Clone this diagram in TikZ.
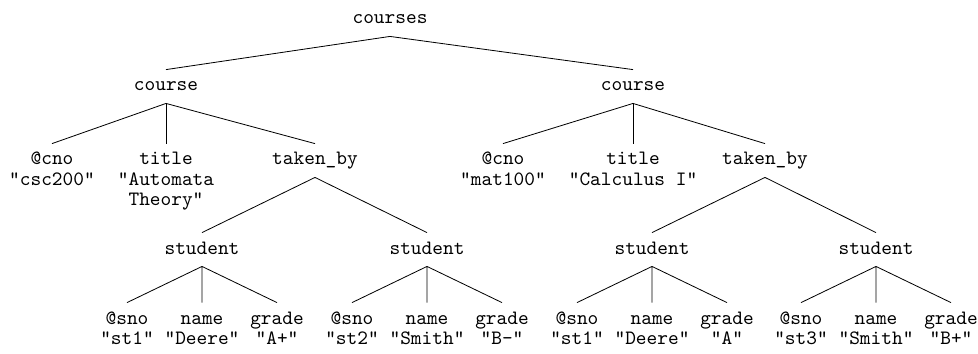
\documentclass[tikz,border=0pt]{standalone}
\newcommand\leaftext[1]{\begin{tabular}[t]{@{}c@{}}#1\end{tabular}}
\begin{document}
\begin{tikzpicture}[x=0.4907pt,y=-0.4907pt,
	tag/.style={anchor=base,font=\ttfamily\fontsize{10}{10}\selectfont,inner sep=2.3pt,text height=8pt,text depth=3.6pt}]
	\useasboundingbox (0,0) rectangle (978,354);

	\node[tag] (root) at (390,24) {courses};
	\node[tag] (c1) at (166,91) {course};
	\node[tag] (c2) at (633,91) {course};

	% first course
	\node[tag] (c1no) at (52,165) {\leaftext{@cno\\"csc200"}};
	\node[tag] (c1ti) at (166,165) {\leaftext{title\\"Automata\\Theory"}};
	\node[tag] (c1tb) at (315,165) {taken\_by};
	% second course
	\node[tag] (c2no) at (503,165) {\leaftext{@cno\\"mat100"}};
	\node[tag] (c2ti) at (633,165) {\leaftext{title\\"Calculus I"}};
	\node[tag] (c2tb) at (765,165) {taken\_by};

	\foreach \p/\c in {root/c1,root/c2,c1/c1no,c1/c1ti,c1/c1tb,c2/c2no,c2/c2ti,c2/c2tb}
		\draw (\p.south) -- (\c.north);

	\foreach \s/\x/\no/\nm/\gr in {s1/202/st1/Deere/A+, s2/427/st2/Smith/B-, s3/652/st1/Deere/A, s4/876/st3/Smith/B+}
	  {\node[tag] (\s) at (\x,254) {student};
		 \node[tag] (\s no) at (\x-75,324) {\leaftext{@sno\\"\no"}};
		 \node[tag] (\s nm) at (\x,324) {\leaftext{name\\"\nm"}};
		 \node[tag] (\s gr) at (\x+75,324) {\leaftext{grade\\"\gr"}};
		 \draw (\s.south) -- (\s no.north) (\s.south) -- (\s nm.north) (\s.south) -- (\s gr.north);}

	\draw (c1tb.south) -- (s1.north) (c1tb.south) -- (s2.north);
	\draw (c2tb.south) -- (s3.north) (c2tb.south) -- (s4.north);
\end{tikzpicture}
\end{document}
